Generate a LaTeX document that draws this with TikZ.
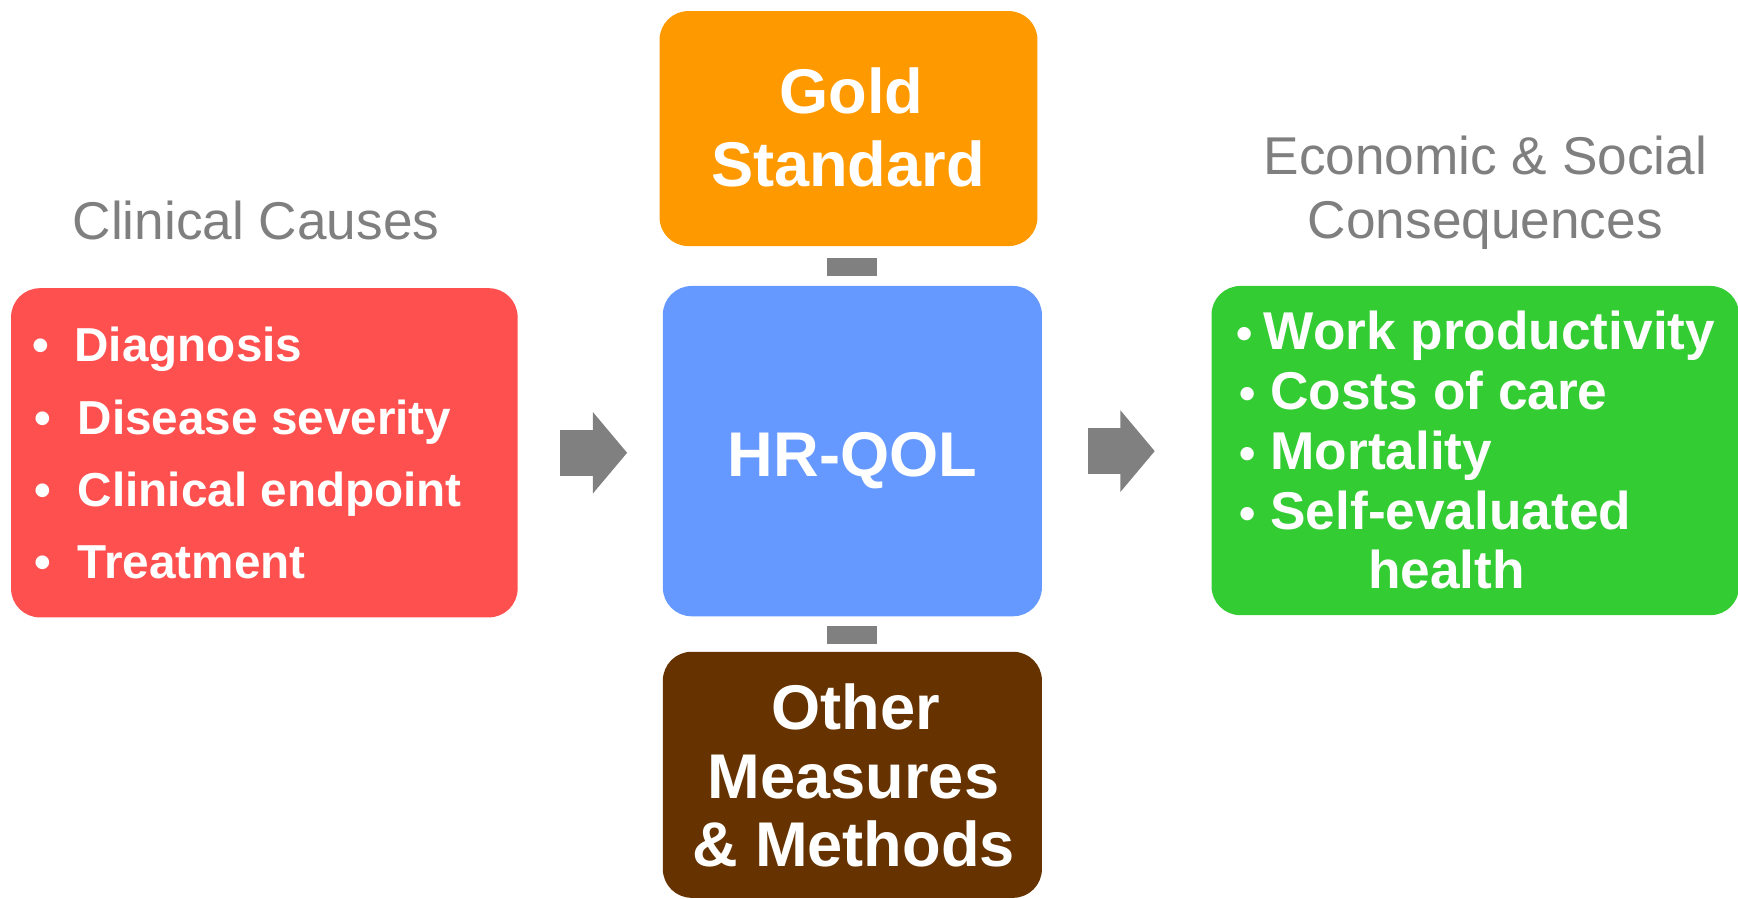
\documentclass[tikz,border=0pt]{standalone}
\usepackage{fontspec}
\setmainfont{Liberation Sans}
\usetikzlibrary{arrows.meta}
\definecolor{cred}{HTML}{FF5050}
\definecolor{corange}{HTML}{FF9900}
\definecolor{cblue}{HTML}{6699FF}
\definecolor{cgreen}{HTML}{33CC33}
\definecolor{cbrown}{HTML}{663300}
\definecolor{cgray}{HTML}{808080}
\definecolor{ctitle}{HTML}{7F7F7F}
\begin{document}
\begin{tikzpicture}[x=1pt,y=-1pt,
  box/.style={rectangle, rounded corners=26pt, inner sep=0pt, draw=none},
  bigtxt/.style={text=white, font=\fontsize{57}{66}\selectfont\bfseries, inner sep=0pt, anchor=base},
  redtxt/.style={text=white, font=\fontsize{43}{50}\selectfont\bfseries, inner sep=0pt, anchor=base west},
  greentxt/.style={text=white, font=\fontsize{48}{54}\selectfont\bfseries, inner sep=0pt, anchor=base west},
  redbul/.style={text=white, font=\fontsize{43}{50}\selectfont\bfseries, inner sep=0pt, anchor=base},
  greenbul/.style={text=white, font=\fontsize{42}{50}\selectfont\bfseries, inner sep=0pt, anchor=base},
  title/.style={text=ctitle, font=\fontsize{48}{58}\selectfont, inner sep=0pt, anchor=base},
  link/.style={draw=cgray, line width=45pt},
  blockarrow/.style={draw=cgray, line width=42pt, -{Triangle[width=72pt,length=31pt]}}
]
\useasboundingbox (0,0) rectangle (1568,811);

% boxes
\node[box, fill=cred, minimum width=457pt, minimum height=297pt] (causes) at (238.5,408.5) {};
\node[box, fill=corange, minimum width=341pt, minimum height=212pt] (gold) at (765.5,116) {};
\node[box, fill=cblue, minimum width=342pt, minimum height=298pt] (hrqol) at (769,407) {};
\node[box, fill=cbrown, minimum width=342pt, minimum height=222pt] (other) at (769,699) {};
\node[box, fill=cgreen, minimum width=476pt, minimum height=297pt] (conseq) at (1331,406.5) {};

% connectors
\draw[link, shorten <=11pt, shorten >=9pt] (gold.south -| hrqol.north) -- (hrqol.north);
\draw[link, shorten <=9pt, shorten >=7pt] (hrqol.south) -- (hrqol.south |- other.north);
\draw[blockarrow, shorten <=38pt, shorten >=32pt] (causes.east) -- (causes.east -| hrqol.west);
\draw[blockarrow, shorten <=41pt, shorten >=51pt] (hrqol.east) -- (hrqol.east -| conseq.west);

% titles
\node[title] (t1) at (231,216) {Clinical Causes};
\node[title] (t2) at (1340,157) {Economic \& Social};
\node[title] (t3) at (1340,215) {Consequences};

% center texts
\node[bigtxt] (g1) at (768,102) {Gold};
\node[bigtxt] (g2) at (765,168) {Standard};
\node[bigtxt] (h1) at (769,430) {HR-QOL};
\node[bigtxt] (o1) at (772,658) {Other};
\node[bigtxt] (o2) at (770,720) {Measures};
\node[bigtxt] (o3) at (770,782) {\& Methods};

% red list
\node[redbul] (rb1) at (37,326) {•};
\node[redtxt] (r1) at (67,326) {Diagnosis};
\node[redbul] (rb2) at (39,392) {•};
\node[redtxt] (r2) at (70,392) {Disease severity};
\node[redbul] (rb3) at (39,457) {•};
\node[redtxt] (r3) at (70,457) {Clinical endpoint};
\node[redbul] (rb4) at (39,522) {•};
\node[redtxt] (r4) at (70,522) {Treatment};

% green list
\node[greenbul] (gb1) at (1123,315) {•};
\node[greentxt] (c1) at (1140,315) {Work productivity};
\node[greenbul] (gb2) at (1126,369) {•};
\node[greentxt] (c2) at (1146,369) {Costs of care};
\node[greenbul] (gb3) at (1126,424) {•};
\node[greentxt] (c3) at (1146,424) {Mortality};
\node[greenbul] (gb4) at (1126,478) {•};
\node[greentxt] (c4) at (1146,478) {Self-evaluated};
\node[greentxt] (c5) at (1234,531) {health};
\end{tikzpicture}
\end{document}
